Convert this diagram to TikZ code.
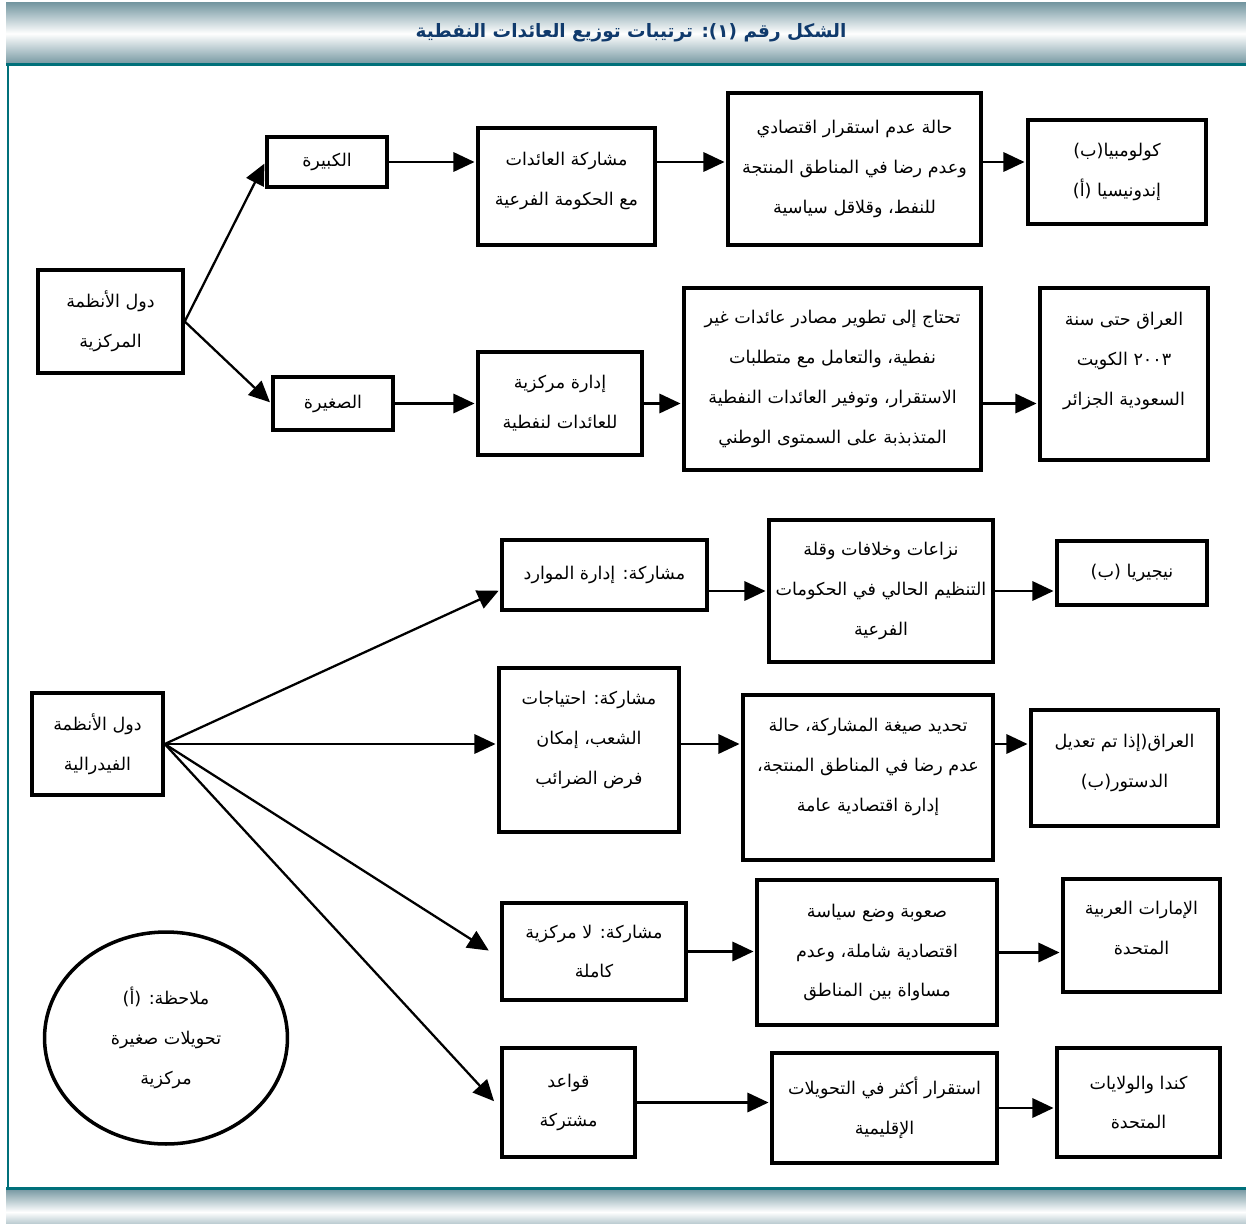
\documentclass[tikz,border=0pt]{standalone}
\usepackage{fontspec}
\usetikzlibrary{arrows.meta,shapes.geometric}
\TeXXeTstate=1
\newfontfamily\arabicfont[Script=Arabic]{DejaVu Sans}
\definecolor{bandgray}{RGB}{118,152,162}
\definecolor{frameteal}{RGB}{0,112,122}
\definecolor{titleblue}{RGB}{16,58,108}
\newcommand{\ar}[1]{\beginR #1\endR}

\tikzset{
  box/.style={draw, line width=2pt, align=center, inner sep=2pt,
    font=\arabicfont\fontsize{10}{22.7}\selectfont},
  arr/.style={-{Triangle[length=12pt,width=11pt]}, line width=1.3pt, shorten >=1pt},
}

\begin{document}
\begin{tikzpicture}[x=0.02cm, y=-0.02cm]
\useasboundingbox (0,0) rectangle (1246,1223);
% bands and frame
\shade[top color=bandgray, bottom color=bandgray, middle color=white] (6,3) rectangle (1246,64);
\shade[top color=bandgray, bottom color=bandgray, middle color=white] (6,1189) rectangle (1246,1235);
\draw[frameteal, line width=1.7pt] (6,64.5) -- (1246,64.5);
\draw[frameteal, line width=1.7pt] (8,64) -- (8,1188);
\draw[frameteal, line width=1.7pt] (6,1188) -- (1246,1188);
\node[font=\arabicfont\bfseries\fontsize{10.5}{12}\selectfont, text=titleblue] (title) at (631,33)
  {\ar{الشكل رقم (١): ترتيبات توزيع العائدات النفطية}};

% centralized systems
\node[box, minimum width=2.9cm, minimum height=2.06cm] (cen) at (110.5,321.5)
  {\ar{دول الأنظمة}\\\ar{المركزية}};
\node[box, minimum width=2.4cm, minimum height=1cm] (big) at (327,162) {\ar{الكبيرة}};
\node[box, minimum width=2.4cm, minimum height=1.06cm] (small) at (333,403.5) {\ar{الصغيرة}};
\node[box, minimum width=3.54cm, minimum height=2.34cm, text depth=0.3cm] (share) at (566.5,186.5)
  {\ar{مشاركة العائدات}\\\ar{مع الحكومة الفرعية}};
\node[box, minimum width=3.28cm, minimum height=2.06cm] (admin) at (560,403.5)
  {\ar{إدارة مركزية}\\\ar{للعائدات لنفطية}};
\node[box, minimum width=5.06cm, minimum height=3.04cm] (unstable) at (854.5,169)
  {\ar{حالة عدم استقرار اقتصادي}\\\ar{وعدم رضا في المناطق المنتجة}\\\ar{للنفط، وقلاقل سياسية}};
\node[box, minimum width=5.94cm, minimum height=3.64cm] (needs) at (832.5,379)
  {\ar{تحتاج إلى تطوير مصادر عائدات غير}\\\ar{نفطية، والتعامل مع متطلبات}\\\ar{الاستقرار، وتوفير العائدات النفطية}\\\ar{المتذبذبة على السمتوى الوطني}};
\node[box, minimum width=3.56cm, minimum height=2.08cm] (colombia) at (1117,172)
  {\ar{كولومبيا(ب)}\\\ar{إندونيسيا (أ)}};
\node[box, minimum width=3.36cm, minimum height=3.44cm, text depth=0.6cm] (iraqa) at (1124,374)
  {\ar{العراق حتى سنة}\\\ar{٢٠٠٣ الكويت}\\\ar{السعودية الجزائر}};

\draw[arr] (cen.east) -- (big.west);
\draw[arr] (cen.east) -- (small.west);
\draw[arr] (big.east) -- (big.east -| share.west);
\draw[arr] (share.east |- big) -- (unstable.west |- big);
\draw[arr] (unstable.east |- big) -- (colombia.west |- big);
\draw[arr] (small.east) -- (small.east -| admin.west);
\draw[arr] (admin.east) -- (admin.east -| needs.west);
\draw[arr] (needs.east |- admin) -- (iraqa.west |- admin);

% federal systems
\node[box, minimum width=2.62cm, minimum height=2.04cm] (fed) at (97.5,744)
  {\ar{دول الأنظمة}\\\ar{الفيدرالية}};
\node[box, minimum width=4.1cm, minimum height=1.4cm] (resmgmt) at (604.5,575)
  {\ar{مشاركة: إدارة الموارد}};
\node[box, minimum width=3.6cm, minimum height=3.28cm, text depth=0.5cm] (people) at (589,750)
  {\ar{مشاركة: احتياجات}\\\ar{الشعب، إمكان}\\\ar{فرض الضرائب}};
\node[box, minimum width=3.68cm, minimum height=1.94cm] (decentral) at (594,951.5)
  {\ar{مشاركة: لا مركزية}\\\ar{كاملة}};
\node[box, minimum width=2.66cm, minimum height=2.18cm] (rules) at (568.5,1102.5)
  {\ar{قواعد}\\\ar{مشتركة}};
\node[box, minimum width=4.48cm, minimum height=2.84cm] (conflicts) at (881,591)
  {\ar{نزاعات وخلافات وقلة}\\\ar{التنظيم الحالي في الحكومات}\\\ar{الفرعية}};
\node[box, minimum width=5cm, minimum height=3.3cm, text depth=0.5cm] (formula) at (868,777.5)
  {\ar{تحديد صيغة المشاركة، حالة}\\\ar{عدم رضا في المناطق المنتجة،}\\\ar{إدارة اقتصادية عامة}};
\node[box, minimum width=4.8cm, minimum height=2.9cm] (hard) at (877,952.5)
  {\ar{صعوبة وضع سياسة}\\\ar{اقتصادية شاملة، وعدم}\\\ar{مساواة بين المناطق}};
\node[box, minimum width=4.5cm, minimum height=2.2cm] (stable) at (884.5,1108)
  {\ar{استقرار أكثر في التحويلات}\\\ar{الإقليمية}};
\node[box, minimum width=3cm, minimum height=1.28cm] (nigeria) at (1132,573)
  {\ar{نيجيريا (ب)}};
\node[box, minimum width=3.74cm, minimum height=2.32cm, text depth=0.3cm] (iraqb) at (1124.5,768)
  {\ar{العراق(إذا تم تعديل}\\\ar{الدستور(ب)}};
\node[box, minimum width=3.14cm, minimum height=2.26cm, text depth=0.3cm] (uae) at (1141.5,935.5)
  {\ar{الإمارات العربية}\\\ar{المتحدة}};
\node[box, minimum width=3.26cm, minimum height=2.18cm] (canada) at (1138.5,1102.5)
  {\ar{كندا والولايات}\\\ar{المتحدة}};
\node[box, ellipse, inner sep=0pt, minimum width=4.86cm, minimum height=4.24cm] (note) at (166,1038)
  {\ar{ملاحظة: (أ)}\\\ar{تحويلات صغيرة}\\\ar{مركزية}};

\draw[arr] (fed.east) -- ([yshift=-0.3cm]resmgmt.west);
\draw[arr] (fed.east) -- (fed.east -| people.west);
\draw[arr] (fed.east) -- ([xshift=-0.2cm]decentral.west);
\draw[arr] (fed.east) -- ([xshift=-0.1cm]rules.west);
\draw[arr] (resmgmt.east |- conflicts) -- (conflicts.west);
\draw[arr] (people.east |- fed) -- (formula.west |- fed);
\draw[arr] (decentral.east) -- (decentral.east -| hard.west);
\draw[arr] (rules.east) -- (rules.east -| stable.west);
\draw[arr] (conflicts.east) -- (conflicts.east -| nigeria.west);
\draw[arr] (formula.east |- fed) -- (iraqb.west |- fed);
\draw[arr] (hard.east) -- (hard.east -| uae.west);
\draw[arr] (stable.east) -- (stable.east -| canada.west);
\end{tikzpicture}
\end{document}
